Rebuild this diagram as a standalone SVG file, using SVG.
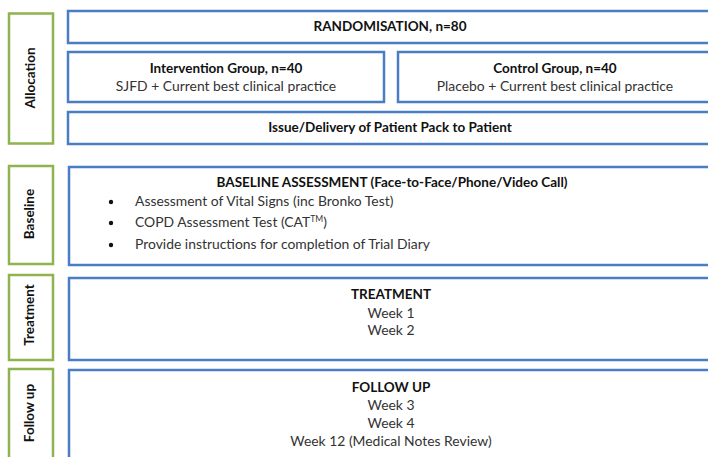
<svg xmlns="http://www.w3.org/2000/svg" width="708" height="457" viewBox="0 0 708 457">
<style>
.stage{fill:#fff;stroke:#8FB34E;stroke-width:2.5}
.box{fill:#fff;stroke:#4A7DC4;stroke-width:2.5}
text{font-family:Lato,"Liberation Sans",sans-serif;font-size:13.9px;fill:#333}
.b{font-weight:bold;fill:#111;font-size:13.5px}
.c{text-anchor:middle}
</style>
<rect width="708" height="457" fill="#fff"/>
<g id="stage-allocation"><rect class="stage" x="9" y="13.5" width="44" height="130"/><text class="b c" transform="translate(35,78) rotate(-90)">Allocation</text></g>
<g id="randomisation"><rect class="box" x="68" y="11" width="645" height="32"/><text class="b c" x="390" y="31">RANDOMISATION, n=80</text></g>
<g id="intervention"><rect class="box" x="68" y="52" width="316" height="50"/><text class="b c" x="226" y="73">Intervention Group, n=40</text><text class="c" x="226" y="91">SJFD + Current best clinical practice</text></g>
<g id="control"><rect class="box" x="398" y="52" width="315" height="50"/><text class="b c" x="555" y="73">Control Group, n=40</text><text class="c" x="555" y="91">Placebo + Current best clinical practice</text></g>
<g id="issue"><rect class="box" x="68" y="112" width="645" height="32"/><text class="b c" x="390" y="132">Issue/Delivery of Patient Pack to Patient</text></g>
<g id="stage-baseline"><rect class="stage" x="9" y="166" width="44" height="98"/><text class="b c" transform="translate(34,214) rotate(-90)">Baseline</text></g>
<g id="baseline"><rect class="box" x="69" y="167" width="644" height="98"/><text class="b c" x="392" y="187">BASELINE ASSESSMENT (Face-to-Face/Phone/Video Call)</text>
<circle cx="111" cy="202" r="2.2" fill="#111"/><text x="135" y="206">Assessment of Vital Signs (inc Bronko Test)</text>
<circle cx="111" cy="223" r="2.2" fill="#111"/><text x="135" y="227">COPD Assessment Test (CAT<tspan font-size="8.5" dy="-5">TM</tspan><tspan dy="5">)</tspan></text>
<circle cx="111" cy="245" r="2.2" fill="#111"/><text x="135" y="249">Provide instructions for completion of Trial Diary</text></g>
<g id="stage-treatment"><rect class="stage" x="9" y="275" width="44" height="85"/><text class="b c" transform="translate(34,315) rotate(-90)">Treatment</text></g>
<g id="treatment"><rect class="box" x="69" y="278" width="644" height="82"/><text class="b c" x="391" y="299">TREATMENT</text><text class="c" x="391" y="318">Week 1</text><text class="c" x="391" y="335">Week 2</text></g>
<g id="stage-followup"><rect class="stage" x="9" y="369" width="44" height="100"/><text class="b c" transform="translate(34,413) rotate(-90)">Follow up</text></g>
<g id="followup"><rect class="box" x="69" y="370" width="644" height="100"/><text class="b c" x="391" y="392">FOLLOW UP</text><text class="c" x="391" y="410">Week 3</text><text class="c" x="391" y="428">Week 4</text><text class="c" x="391" y="446">Week 12 (Medical Notes Review)</text></g>
<g id="connectors"></g>
</svg>
